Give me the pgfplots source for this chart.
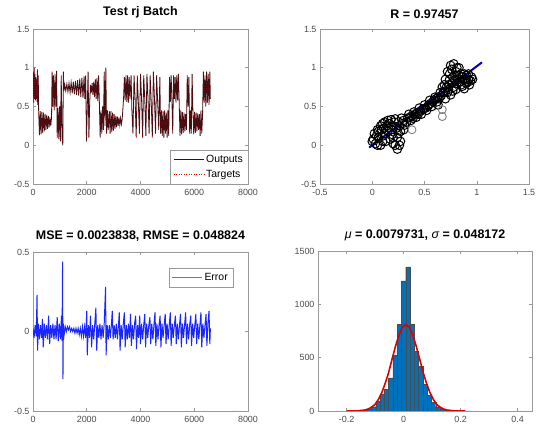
\documentclass[border=0pt]{standalone}
\usepackage{fontspec}
\setmainfont{Liberation Sans}
\usepackage{pgfplots}
\pgfplotsset{compat=1.18}
\usepackage{pgfplotstable}

\definecolor{mblue}{rgb}{0,0.447,0.741}
\definecolor{axgray}{gray}{0.6}
\definecolor{tickgray}{gray}{0.3}
\definecolor{outcol}{rgb}{0.22,0.06,0.08}
\definecolor{errblue}{rgb}{0.1,0.15,1}
\definecolor{errleg}{rgb}{0.4,0.45,0.85}

\pgfplotsset{
  mat/.style={
    scale only axis,
    axis line style={axgray, line width=0.6bp},
    tick style={axgray, line width=0.5bp},
    major tick length=3bp,
    tick align=inside,
    tick label style={font=\fontsize{9}{10}\selectfont, text=tickgray},
    xticklabel style={yshift=-2bp},
    /pgf/number format/assume math mode=true,
    /pgf/number format/1000 sep={},
    scaled ticks=false,
    title style={font=\fontsize{12.5}{14}\selectfont\bfseries, yshift=1bp},
    legend style={font=\fontsize{10.5}{12}\selectfont, draw=axgray, fill=white, inner sep=3bp, row sep=2.5bp},
    legend cell align=left,
    legend image code/.code={\draw[#1] (0bp,0bp) -- (30bp,0bp);},
  },
}

% test batch: outputs (targets nearly identical)
\pgfplotstableread[row sep=\\]{
x y\\
0 0.62\\ 15 0.95\\ 30 0.55\\ 45 1.0\\ 60 0.6\\ 75 0.92\\ 90 0.58\\ 105 0.88\\ 120 0.6\\ 135 0.85\\ 150 0.56\\ 165 0.98\\ 180 0.52\\ 195 0.9\\
210 0.45\\ 240 0.13\\ 270 0.44\\ 300 0.14\\ 330 0.43\\ 360 0.16\\ 390 0.42\\ 420 0.18\\ 450 0.4\\ 480 0.2\\ 510 0.39\\ 540 0.21\\ 570 0.38\\ 600 0.23\\ 630 0.36\\ 660 0.25\\ 690 0.35\\
710 0.95\\ 730 0.5\\ 760 0.9\\ 790 0.45\\ 820 0.92\\ 850 0.5\\ 880 0.96\\
900 0.1\\ 930 0.48\\ 960 0.08\\ 990 0.5\\ 1020 0.05\\ 1050 0.9\\ 1080 0.1\\ 1110 0.0\\ 1130 0.95\\ 1150 0.7\\
1180 0.78\\ 1220 0.7\\ 1260 0.79\\ 1300 0.69\\ 1340 0.8\\ 1380 0.68\\ 1420 0.81\\ 1460 0.67\\ 1500 0.82\\ 1540 0.66\\ 1580 0.83\\ 1620 0.65\\ 1660 0.84\\ 1700 0.64\\ 1740 0.86\\ 1780 0.62\\ 1820 0.87\\ 1860 0.61\\ 1900 0.89\\ 1930 0.6\\
1960 0.9\\ 1990 0.05\\ 2020 0.5\\ 2050 0.95\\ 2080 0.1\\ 2110 0.55\\
2140 0.78\\ 2170 0.68\\ 2200 0.8\\ 2230 0.65\\ 2260 0.82\\ 2290 0.62\\ 2320 0.85\\ 2350 0.6\\ 2380 0.87\\ 2410 0.57\\ 2440 0.9\\ 2470 0.55\\
2500 0.1\\ 2530 0.45\\ 2560 0.15\\ 2590 0.5\\ 2620 0.2\\ 2650 0.95\\ 2680 0.25\\ 2710 1.0\\ 2740 0.15\\ 2770 0.45\\ 2800 0.2\\ 2840 0.44\\
2870 0.15\\ 2900 0.44\\ 2930 0.17\\ 2960 0.42\\ 2990 0.19\\ 3020 0.4\\ 3050 0.21\\ 3080 0.38\\ 3110 0.23\\ 3140 0.37\\ 3170 0.25\\ 3200 0.36\\ 3230 0.26\\ 3260 0.35\\ 3290 0.27\\ 3320 0.34\\
3370 0.6\\ 3400 0.88\\ 3430 0.58\\ 3460 0.9\\ 3490 0.56\\ 3520 0.9\\ 3550 0.55\\ 3580 0.88\\ 3610 0.6\\
3650 0.9\\ 3680 0.45\\ 3720 0.15\\ 3760 0.9\\ 3800 0.6\\ 3840 0.1\\ 3880 0.9\\ 3920 0.55\\ 3960 0.15\\ 4000 0.92\\ 4040 0.6\\ 4080 0.1\\ 4120 0.9\\ 4160 0.58\\ 4200 0.12\\ 4240 0.92\\ 4280 0.6\\ 4320 0.15\\ 4360 0.9\\ 4400 0.55\\ 4440 0.1\\ 4480 0.95\\ 4520 0.6\\ 4560 0.15\\ 4600 0.9\\ 4640 0.55\\ 4680 0.2\\ 4720 0.88\\
4750 0.15\\ 4780 0.45\\ 4810 0.12\\ 4840 0.44\\ 4870 0.1\\ 4900 0.45\\ 4930 0.15\\ 4960 0.42\\ 4990 0.1\\ 5020 0.45\\ 5050 0.12\\
5080 0.88\\ 5110 0.56\\ 5140 0.9\\ 5170 0.58\\ 5200 0.15\\ 5230 0.9\\ 5260 0.6\\ 5290 0.88\\ 5320 0.55\\ 5350 0.9\\ 5380 0.58\\ 5410 0.92\\ 5440 0.55\\
5470 0.12\\ 5500 0.45\\ 5530 0.14\\ 5560 0.43\\ 5590 0.16\\ 5620 0.42\\ 5650 0.18\\ 5680 0.4\\ 5710 0.2\\ 5740 0.9\\ 5770 0.5\\ 5800 0.88\\ 5830 0.15\\
5860 0.45\\ 5890 0.15\\ 5920 0.92\\ 5950 0.45\\ 5980 0.14\\ 6010 0.43\\ 6040 0.16\\ 6070 0.42\\ 6100 0.18\\ 6130 0.41\\ 6160 0.2\\ 6190 0.4\\ 6220 0.12\\ 6250 0.45\\ 6280 0.15\\ 6310 0.4\\
6340 0.95\\ 6370 0.55\\ 6400 0.9\\ 6430 0.5\\ 6460 0.95\\ 6490 0.55\\ 6520 0.92\\ 6550 0.52\\ 6580 0.95\\ 6600 0.6\\
}\resp

% error = targets - outputs
\pgfplotstableread[row sep=\\]{
x y\\
0 0.02\\ 40 -0.04\\ 80 0.04\\ 120 -0.03\\ 150 0.23\\ 170 -0.12\\ 200 0.05\\ 240 -0.05\\ 280 0.04\\ 320 -0.04\\ 350 0.08\\ 380 -0.1\\ 420 0.05\\ 460 -0.04\\ 500 0.04\\ 540 -0.05\\ 580 0.1\\ 620 -0.08\\ 660 0.04\\ 700 -0.04\\ 740 0.05\\ 780 -0.05\\ 820 0.04\\ 860 -0.05\\ 900 0.09\\ 940 -0.06\\ 980 0.05\\ 1020 -0.05\\ 1060 0.1\\ 1080 -0.06\\ 1100 0.44\\ 1115 -0.3\\ 1130 0.05\\
1160 -0.02\\ 1200 0.03\\ 1240 0.0\\ 1280 0.03\\ 1320 0.01\\ 1360 0.03\\ 1400 0.0\\ 1440 0.02\\ 1480 0.0\\ 1520 0.02\\ 1560 -0.01\\ 1600 0.02\\ 1640 -0.01\\ 1680 0.02\\ 1720 -0.02\\ 1760 0.02\\ 1800 -0.03\\ 1840 0.03\\ 1880 -0.03\\ 1920 0.03\\ 1960 -0.04\\
2000 0.13\\ 2020 -0.15\\ 2060 0.04\\ 2100 -0.04\\ 2140 0.1\\ 2180 -0.1\\ 2220 0.04\\ 2260 -0.05\\ 2300 0.05\\ 2340 0.15\\ 2370 -0.12\\ 2410 0.04\\ 2450 -0.04\\ 2490 0.05\\ 2530 -0.05\\ 2570 0.04\\ 2610 -0.04\\ 2650 0.05\\ 2700 0.28\\ 2720 -0.15\\ 2760 0.04\\ 2800 -0.05\\ 2840 0.04\\ 2880 -0.04\\ 2920 0.05\\ 2950 0.13\\ 2980 -0.05\\
3020 0.04\\ 3060 -0.04\\ 3100 0.05\\ 3140 -0.05\\ 3180 0.04\\ 3210 0.12\\ 3240 -0.12\\ 3280 0.04\\ 3320 -0.05\\ 3360 0.05\\ 3400 0.12\\ 3430 -0.1\\ 3470 0.04\\ 3510 -0.05\\ 3550 0.05\\ 3590 -0.04\\ 3630 0.11\\ 3660 -0.09\\ 3700 0.04\\ 3740 -0.05\\ 3780 0.05\\ 3820 0.1\\ 3850 -0.11\\ 3890 0.04\\ 3930 -0.04\\ 3970 0.1\\ 4000 -0.08\\
4040 0.05\\ 4080 -0.05\\ 4120 0.04\\ 4160 0.11\\ 4190 -0.1\\ 4230 0.05\\ 4270 -0.04\\ 4310 0.04\\ 4350 0.09\\ 4380 -0.08\\ 4420 0.05\\ 4460 -0.05\\ 4500 0.04\\ 4540 0.12\\ 4570 -0.09\\ 4610 0.05\\ 4650 -0.05\\ 4690 0.04\\ 4730 0.1\\ 4760 -0.1\\ 4800 0.05\\ 4840 -0.04\\ 4880 0.04\\ 4920 0.11\\ 4950 -0.08\\ 4990 0.05\\
5030 -0.05\\ 5070 0.04\\ 5110 0.12\\ 5140 -0.09\\ 5180 0.05\\ 5220 -0.04\\ 5260 0.04\\ 5300 0.1\\ 5330 -0.08\\ 5370 0.05\\ 5410 -0.05\\ 5450 0.04\\ 5490 0.11\\ 5520 -0.1\\ 5560 0.05\\ 5600 -0.04\\ 5640 0.04\\ 5680 0.12\\ 5710 -0.08\\ 5750 0.05\\ 5790 -0.05\\ 5830 0.04\\ 5870 0.1\\ 5900 -0.09\\ 5940 0.05\\ 5980 -0.04\\
6020 0.04\\ 6060 0.11\\ 6090 -0.08\\ 6130 0.05\\ 6170 -0.05\\ 6210 0.04\\ 6250 0.12\\ 6280 -0.1\\ 6320 0.05\\ 6360 -0.04\\ 6400 0.04\\ 6440 0.11\\ 6470 -0.09\\ 6510 0.05\\ 6550 0.13\\ 6580 -0.08\\ 6600 0.02\\
}\err

% histogram of errors: left bin edges and counts
\pgfplotstableread[row sep=\\]{
x n\\
-0.1425 5\\ -0.1275 15\\ -0.1125 40\\ -0.0975 90\\ -0.0825 160\\ -0.0675 200\\ -0.0525 310\\ -0.0375 520\\ -0.0225 810\\ -0.0075 1220\\ 0.0075 1350\\ 0.0225 810\\ 0.0375 560\\ 0.0525 420\\ 0.0675 250\\ 0.0825 150\\ 0.0975 80\\ 0.1125 40\\ 0.1275 20\\ 0.1425 10\\ 0.1575 5\\ 0.1725 3\\ 0.1875 0\\ 0.2025 3\\ 0.2175 2\\ 0.2325 0\\
}\hist

\begin{document}
\begin{tikzpicture}
\useasboundingbox (0,0) rectangle (537bp,438bp);

% top left
\begin{axis}[mat, at={(33bp,254bp)}, anchor=south west,
  width=215bp, height=155bp,
  xmin=0, xmax=8000, ymin=-0.5, ymax=1.5,
  xtick={0,2000,4000,6000,8000}, ytick={-0.5,0,0.5,1,1.5},
  title={Test rj Batch},
  legend style={at={(1,0)}, anchor=south east}]
\addplot[outcol, line width=0.8bp, forget plot] table[x=x, y=y] {\resp};
\addplot[red, dotted, line width=0.4bp, opacity=0.7, forget plot] table[x=x, y=y] {\resp};
\addlegendimage{outcol, line width=0.7bp}
\addlegendentry{Outputs}
\addlegendimage{red, dotted, line width=0.5bp}
\addlegendentry{Targets}
\end{axis}

% top right
\begin{axis}[mat, at={(320bp,254bp)}, anchor=south west,
  width=209bp, height=155bp,
  xmin=-0.5, xmax=1.5, ymin=-0.5, ymax=1.5,
  xtick={-0.5,0,0.5,1,1.5}, ytick={-0.5,0,0.5,1,1.5},
  title={R = 0.97457}]
\addplot[only marks, mark=o, mark size=4.3bp, black, mark options={line width=1bp}] coordinates {
(0.0,0.05)(0.02,0.15)(0.03,0.02)(0.05,0.2)(0.06,0.1)(0.08,0.25)(0.08,0.0)(0.1,0.28)(0.1,0.12)(0.12,0.3)(0.13,0.05)(0.15,0.32)(0.15,0.18)(0.17,0.08)(0.18,0.33)(0.2,0.25)(0.2,0.1)(0.22,0.34)(0.22,0.0)(0.24,-0.05)(0.25,0.3)(0.25,0.15)(0.27,0.05)(0.28,0.35)(0.3,0.2)(0.3,0.32)
(0.01,0.08)(0.04,0.12)(0.06,0.18)(0.09,0.2)(0.11,0.22)(0.12,0.15)(0.14,0.25)(0.16,0.28)(0.18,0.2)(0.19,0.14)(0.21,0.3)(0.23,0.22)(0.24,0.1)(0.26,0.25)(0.27,0.18)(0.29,0.28)(0.31,0.26)(0.05,0.0)(0.1,0.05)(0.2,0.02)(0.26,0.0)
(0.33,0.3)(0.35,0.4)(0.37,0.32)(0.4,0.43)(0.42,0.36)(0.45,0.48)(0.47,0.4)(0.5,0.52)(0.52,0.45)(0.55,0.58)(0.57,0.5)(0.6,0.62)(0.62,0.56)(0.65,0.68)(0.63,0.52)
(0.34,0.35)(0.36,0.36)(0.38,0.38)(0.39,0.35)(0.41,0.4)(0.43,0.42)(0.44,0.4)(0.46,0.44)(0.48,0.46)(0.49,0.47)(0.51,0.48)(0.53,0.5)(0.54,0.52)(0.56,0.54)(0.58,0.56)(0.59,0.58)(0.61,0.6)(0.63,0.62)(0.64,0.6)(0.66,0.64)
(0.67,0.75)(0.7,0.7)(0.7,0.85)(0.72,0.95)(0.73,0.78)(0.75,1.03)(0.75,0.65)(0.77,0.88)(0.78,1.05)(0.8,0.72)(0.8,0.95)(0.82,0.85)(0.83,1.0)(0.85,0.78)(0.85,0.92)(0.87,0.85)(0.88,0.73)(0.9,0.9)(0.9,0.8)(0.92,0.85)(0.93,0.78)(0.95,0.88)(0.7,0.6)(0.77,0.7)
(0.68,0.68)(0.69,0.78)(0.71,0.75)(0.72,0.68)(0.74,0.85)(0.74,0.92)(0.76,0.8)(0.76,0.98)(0.78,0.75)(0.79,0.9)(0.81,0.8)(0.81,1.0)(0.83,0.9)(0.84,0.82)(0.86,0.88)(0.86,0.76)(0.88,0.92)(0.89,0.85)(0.91,0.82)(0.92,0.92)(0.94,0.83)(0.96,0.85)(0.73,0.72)(0.79,0.84)
};
\addplot[only marks, mark=o, mark size=4bp, gray, mark options={line width=0.9bp}] coordinates {
(0.67,0.46)(0.67,0.37)(0.38,0.2)
};
\addplot[blue!75!black, line width=2bp] coordinates {(-0.03,-0.03) (1.05,1.07)};
\end{axis}

% bottom left
\begin{axis}[mat, at={(33bp,27bp)}, anchor=south west,
  width=215bp, height=159bp,
  xmin=0, xmax=8000, ymin=-0.5, ymax=0.5,
  xtick={0,2000,4000,6000,8000}, ytick={-0.5,0,0.5},
  title={MSE = 0.0023838, RMSE = 0.048824},
  legend style={at={(0.93,0.9)}, anchor=north east}]
\addplot[errblue, line width=1bp, forget plot] table[x=x, y=y] {\err};
\addlegendimage{errleg, line width=0.8bp}
\addlegendentry{Error}
\end{axis}

% bottom right
\begin{axis}[mat, at={(318bp,27bp)}, anchor=south west,
  width=214bp, height=160bp,
  xmin=-0.3, xmax=0.45, ymin=0, ymax=1500,
  xtick={-0.2,0,0.2,0.4}, ytick={0,500,1000,1500},
  title={{\mdseries\itshape μ} = 0.0079731, {\mdseries\itshape σ} = 0.048172}]
\addplot[ybar interval, fill=mblue, draw=black!70, line width=0.35bp] table[x=x, y=n] {\hist};
\addplot[red!85!black, line width=1.6bp] coordinates {
(-0.2,0.05)(-0.184,0.27)(-0.16,1.8)(-0.136,9)(-0.124,19)(-0.112,36)(-0.1,62)(-0.088,110)(-0.076,175)(-0.064,263)(-0.052,365)(-0.04,491)(-0.028,610)(-0.016,715)(-0.004,788)(0.008,810)(0.02,788)(0.032,715)(0.044,610)(0.056,491)(0.068,365)(0.08,263)(0.092,175)(0.104,110)(0.116,62)(0.128,36)(0.14,19)(0.152,9)(0.176,1.8)(0.2,0.27)(0.216,0.05)
};
\end{axis}
\end{tikzpicture}
\end{document}
